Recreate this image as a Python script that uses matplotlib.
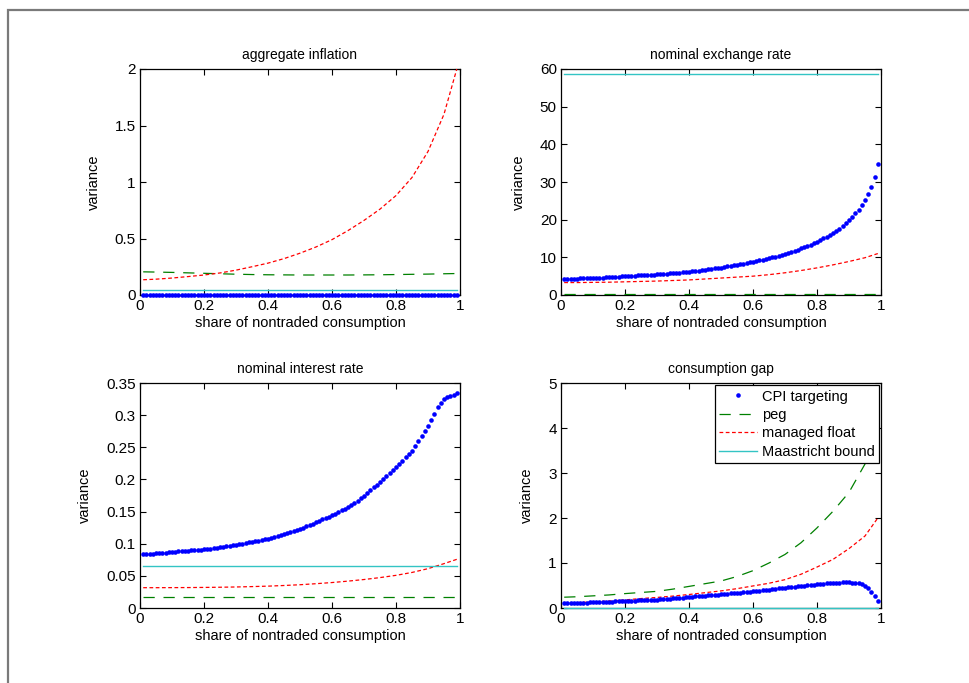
import numpy as NP

import matplotlib
matplotlib.use("Agg")
import matplotlib.pyplot as plt
import matplotlib.patches as patches
from matplotlib.ticker import FuncFormatter

plt.rcParams["font.family"] = ["Liberation Sans", "DejaVu Sans"]

# grid of the dotted series (0.01 ... 0.99)
x_dots = NP.arange(1, 100) / 100.0
# grid of the line series
x_line = [0.01, 0.05, 0.10, 0.15, 0.20, 0.25, 0.30, 0.35, 0.40, 0.45, 0.50,
          0.55, 0.60, 0.65, 0.70, 0.75, 0.80, 0.85, 0.90, 0.95, 0.99]

LABELS = ["CPI targeting", "peg", "managed float", "Maastricht bound"]
TITLES = ["aggregate inflation", "nominal exchange rate",
          "nominal interest rate", "consumption gap"]

# aggregate inflation
infl_cpi = [0.0] * 99
infl_peg = [0.205, 0.203, 0.200, 0.196, 0.192, 0.188, 0.184, 0.181, 0.179, 0.178, 0.177,
            0.177, 0.177, 0.177, 0.178, 0.179, 0.181, 0.183, 0.185, 0.188, 0.190]
infl_float = [0.135, 0.140, 0.150, 0.163, 0.177, 0.195, 0.220, 0.250, 0.282, 0.322, 0.370,
              0.425, 0.490, 0.570, 0.660, 0.760, 0.880, 1.040, 1.270, 1.600, 2.000]
infl_bound = 0.045

# nominal exchange rate
exch_cpi = [4.30, 4.32, 4.34, 4.36, 4.38, 4.40, 4.42, 4.44, 4.47, 4.50,
            4.53, 4.57, 4.61, 4.65, 4.69, 4.73, 4.78, 4.85, 4.92, 5.00,
            5.04, 5.08, 5.13, 5.18, 5.23, 5.28, 5.33, 5.39, 5.44, 5.50,
            5.56, 5.62, 5.68, 5.75, 5.82, 5.89, 5.97, 6.05, 6.12, 6.20,
            6.29, 6.39, 6.49, 6.59, 6.70, 6.81, 6.93, 7.05, 7.17, 7.30,
            7.43, 7.57, 7.71, 7.86, 8.01, 8.16, 8.31, 8.47, 8.63, 8.80,
            8.98, 9.17, 9.36, 9.56, 9.76, 9.97, 10.19, 10.42, 10.65, 10.90,
            11.17, 11.45, 11.74, 12.04, 12.35, 12.66, 12.98, 13.31, 13.74, 14.20,
            14.60, 15.02, 15.45, 15.90, 16.40, 16.95, 17.55, 18.20, 19.00, 19.90,
            20.80, 21.70, 22.60, 23.80, 25.20, 26.70, 28.80, 31.20, 34.80]
exch_peg = [0.2] * 21
exch_float = [3.30, 3.30, 3.35, 3.40, 3.50, 3.60, 3.70, 3.85, 4.00, 4.25, 4.50,
              4.75, 5.00, 5.40, 5.90, 6.50, 7.20, 8.00, 8.90, 9.90, 11.00]
exch_bound = 58.6

# nominal interest rate
rate_cpi = [0.0835, 0.0838, 0.0842, 0.0846, 0.0850, 0.0854, 0.0858, 0.0862, 0.0866, 0.0871,
            0.0875, 0.0879, 0.0883, 0.0887, 0.0891, 0.0895, 0.0899, 0.0904, 0.0908, 0.0913,
            0.0919, 0.0925, 0.0931, 0.0937, 0.0944, 0.0951, 0.0958, 0.0965, 0.0975, 0.0985,
            0.0993, 0.1001, 0.1010, 0.1019, 0.1028, 0.1038, 0.1048, 0.1058, 0.1069, 0.1080,
            0.1093, 0.1106, 0.1120, 0.1134, 0.1149, 0.1164, 0.1180, 0.1197, 0.1215, 0.1234,
            0.1252, 0.1271, 0.1291, 0.1312, 0.1333, 0.1355, 0.1378, 0.1402, 0.1421, 0.1440,
            0.1465, 0.1492, 0.1519, 0.1547, 0.1576, 0.1606, 0.1637, 0.1669, 0.1705, 0.1750,
            0.1790, 0.1830, 0.1875, 0.1918, 0.1960, 0.2005, 0.2050, 0.2095, 0.2142, 0.2190,
            0.2240, 0.2290, 0.2345, 0.2398, 0.2450, 0.2520, 0.2595, 0.2670, 0.2750, 0.2830,
            0.2925, 0.3020, 0.3120, 0.3190, 0.3250, 0.3280, 0.3300, 0.3320, 0.3340]
rate_peg = [0.0171] * 21
rate_float = [0.0316, 0.0316, 0.0317, 0.0318, 0.0320, 0.0323, 0.0327, 0.0333, 0.0340, 0.0350, 0.0362,
              0.0378, 0.0396, 0.0418, 0.0443, 0.0473, 0.0508, 0.0553, 0.0612, 0.0690, 0.0757]
rate_bound = 0.0653

# consumption gap
gap_cpi = [0.110, 0.111, 0.113, 0.114, 0.116, 0.118, 0.119, 0.121, 0.123, 0.126,
           0.128, 0.131, 0.134, 0.137, 0.140, 0.143, 0.146, 0.149, 0.152, 0.156,
           0.158, 0.161, 0.164, 0.167, 0.170, 0.173, 0.176, 0.179, 0.182, 0.185,
           0.190, 0.196, 0.202, 0.208, 0.214, 0.220, 0.226, 0.232, 0.238, 0.244,
           0.250, 0.256, 0.262, 0.268, 0.274, 0.280, 0.286, 0.292, 0.298, 0.304,
           0.310, 0.317, 0.323, 0.330, 0.336, 0.343, 0.350, 0.356, 0.363, 0.370,
           0.378, 0.386, 0.394, 0.402, 0.410, 0.418, 0.426, 0.434, 0.442, 0.450,
           0.458, 0.466, 0.474, 0.482, 0.490, 0.497, 0.504, 0.511, 0.518, 0.526,
           0.533, 0.540, 0.547, 0.553, 0.558, 0.563, 0.566, 0.568, 0.570, 0.570,
           0.565, 0.558, 0.548, 0.525, 0.490, 0.440, 0.360, 0.270, 0.160]
gap_peg = [0.24, 0.25, 0.27, 0.29, 0.32, 0.345, 0.37, 0.42, 0.48, 0.54, 0.60,
           0.70, 0.83, 1.00, 1.19, 1.45, 1.78, 2.15, 2.57, 3.20, 3.90]
gap_float = [0.11, 0.12, 0.135, 0.155, 0.18, 0.21, 0.235, 0.265, 0.30, 0.34, 0.38,
             0.43, 0.49, 0.55, 0.63, 0.75, 0.91, 1.08, 1.32, 1.60, 2.00]
gap_bound = 0.0

Y_LIMITS = [(0, 2), (0, 60), (0, 0.35), (0, 5)]
Y_TICKS = [NP.arange(0, 2.01, 0.5), NP.arange(0, 61, 10),
           NP.arange(0, 0.351, 0.05), NP.arange(0, 5.1, 1)]

BLUE = "#0000ff"
GREEN = "#008000"
RED = "#ff0000"
CYAN = "#33c4c4"

# axes rectangles in figure fractions
W, H = 969.0, 683.0
POSITIONS = [
    (140 / W, 1 - 295 / H, 320 / W, 226 / H),
    (561 / W, 1 - 295 / H, 320 / W, 226 / H),
    (140 / W, 1 - 608 / H, 320 / W, 225 / H),
    (561 / W, 1 - 608 / H, 320 / W, 225 / H),
]


def short_number(value, _pos):
    return "{:g}".format(round(value, 4))


def plot_panel(axis, cpi, peg, managed, bound, idx):
    handles = []
    handles += axis.plot(x_dots, cpi, linestyle="none", marker="o", markersize=3.3,
                         markeredgewidth=0, color=BLUE, label=LABELS[0], clip_on=False, zorder=4)
    handles += axis.plot(x_line, peg, linestyle=(0, (9, 7)), color=GREEN, linewidth=0.9,
                         label=LABELS[1], zorder=3)
    handles += axis.plot(x_line, managed, linestyle=(0, (3, 2)), color=RED, linewidth=0.9,
                         label=LABELS[2], zorder=3)
    handles += axis.plot([0.01, 0.99], [bound, bound], linestyle="-", color=CYAN,
                         linewidth=1.0, label=LABELS[3], clip_on=False, zorder=3.5)

    axis.set_xlim(0, 1)
    axis.set_ylim(*Y_LIMITS[idx])
    axis.set_xticks(NP.arange(0, 1.01, 0.2))
    axis.set_yticks(Y_TICKS[idx])
    axis.xaxis.set_major_formatter(FuncFormatter(short_number))
    axis.yaxis.set_major_formatter(FuncFormatter(short_number))
    axis.tick_params(direction="in", top=True, right=True, length=4, width=0.8,
                     labelsize=11, pad=3)
    for spine in axis.spines.values():
        spine.set_linewidth(0.9)

    axis.set_title(TITLES[idx], fontsize=10, pad=7)
    axis.set_xlabel("share of nontraded consumption", fontsize=10.5, labelpad=2)
    axis.set_ylabel("variance", fontsize=10.5, labelpad=10)

    return handles


def main():
    fig = plt.figure(figsize=(9.69, 6.83), dpi=100)

    panels = [
        (infl_cpi, infl_peg, infl_float, infl_bound),
        (exch_cpi, exch_peg, exch_float, exch_bound),
        (rate_cpi, rate_peg, rate_float, rate_bound),
        (gap_cpi, gap_peg, gap_float, gap_bound),
    ]

    handles = None
    for idx, (cpi, peg, managed, bound) in enumerate(panels):
        axis = fig.add_axes(POSITIONS[idx])
        handles = plot_panel(axis, cpi, peg, managed, bound, idx)

    legend = axis.legend(handles=handles, loc="upper right", fontsize=10.5,
                         fancybox=False, framealpha=1, edgecolor="black",
                         borderaxespad=0.15, handlelength=2.6, handletextpad=0.3,
                         labelspacing=0.3, borderpad=0.3, numpoints=1)
    legend.get_frame().set_linewidth(0.9)
    legend.set_zorder(10)

    # grey frame that runs off the right and bottom of the picture
    frame = patches.Rectangle((8 / W, -0.1), 1.2, 1 - 10 / H + 0.1,
                              transform=fig.transFigure, fill=False,
                              edgecolor="#7a7a7a", linewidth=1.6)
    fig.patches.append(frame)

    fig.savefig("out.png", dpi=100)


main()
